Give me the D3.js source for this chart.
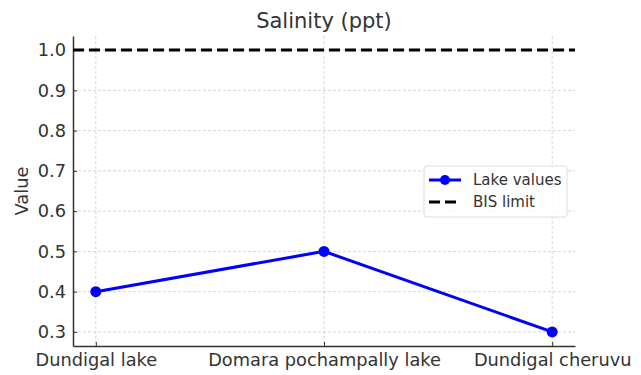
<!DOCTYPE html>
<html>
<head>
<meta charset="utf-8">
<script src="https://cdn.jsdelivr.net/npm/d3@7/dist/d3.min.js"></script>
<style>
  body { margin: 0; background: #fff; }
  svg { display: block; font-family: "DejaVu Sans", sans-serif; }
</style>
</head>
<body>
<div id="chart"></div>
<script>
// Chart data
const categories = ["Dundigal lake", "Domara pochampally lake", "Dundigal cheruvu"]
const lakeValues = [0.4, 0.5, 0.3]
const bisLimit = 1.0
const yTicks = [0.3, 0.4, 0.5, 0.6, 0.7, 0.8, 0.9, 1.0]

const width = 641, height = 375
const margin = { top: 36, right: 66, bottom: 29, left: 73 }
const innerW = width - margin.left - margin.right
const innerH = height - margin.top - margin.bottom
const textColor = "#333"
const font = "DejaVu Sans"
const tickSize = 17.8

const svg = d3.select("#chart").append("svg")
  .attr("width", width)
  .attr("height", height)

const g = svg.append("g").attr("transform", `translate(${margin.left},${margin.top})`)

// x uses index positions with matplotlib-like 5% padding
const x = d3.scaleLinear().domain([-0.1, categories.length - 1 + 0.1]).range([0, innerW])
const y = d3.scaleLinear().domain([0.265, 1.035]).range([innerH, 0])

// Grid
g.append("g").selectAll("line")
  .data(yTicks)
  .join("line")
  .attr("x1", 0).attr("x2", innerW)
  .attr("y1", d => y(d)).attr("y2", d => y(d))
  .attr("stroke", "#ccc").attr("stroke-width", 0.8)
  .attr("stroke-dasharray", "3,2")

g.append("g").selectAll("line")
  .data(categories)
  .join("line")
  .attr("x1", (d, i) => x(i)).attr("x2", (d, i) => x(i))
  .attr("y1", 0).attr("y2", innerH)
  .attr("stroke", "#ccc").attr("stroke-width", 0.8)
  .attr("stroke-dasharray", "3,2")

// Axes
const yAxis = g.append("g")
  .call(d3.axisLeft(y).tickValues(yTicks).tickFormat(d3.format(".1f")).tickSizeInner(-4).tickSizeOuter(0).tickPadding(7))
  .attr("font-family", font).attr("font-size", tickSize)
yAxis.select(".domain").attr("stroke", textColor).attr("stroke-width", 1.5)
yAxis.selectAll(".tick line").attr("stroke", textColor)
yAxis.selectAll("text").attr("fill", textColor)

const xAxis = g.append("g")
  .attr("transform", `translate(0,${innerH})`)
  .call(d3.axisBottom(x).tickValues(d3.range(categories.length)).tickFormat(i => categories[i]).tickSizeInner(-4).tickSizeOuter(0).tickPadding(7))
  .attr("font-family", font).attr("font-size", tickSize)
xAxis.select(".domain").attr("stroke", textColor).attr("stroke-width", 1.5)
xAxis.selectAll(".tick line").attr("stroke", textColor)
xAxis.selectAll("text").attr("fill", textColor)

// BIS limit
g.append("line")
  .attr("x1", 0).attr("x2", innerW)
  .attr("y1", y(bisLimit)).attr("y2", y(bisLimit))
  .attr("stroke", "#000").attr("stroke-width", 3)
  .attr("stroke-dasharray", "11,5")

// Lake values line
const line = d3.line().x((d, i) => x(i)).y(d => y(d))
g.append("path")
  .datum(lakeValues)
  .attr("d", line)
  .attr("fill", "none")
  .attr("stroke", "#0000ff")
  .attr("stroke-width", 3)

g.append("g").selectAll("circle")
  .data(lakeValues)
  .join("circle")
  .attr("cx", (d, i) => x(i)).attr("cy", d => y(d))
  .attr("r", 5.5)
  .attr("fill", "#0000ff")

// Title and y label
svg.append("text")
  .attr("x", margin.left + innerW / 2).attr("y", 28)
  .attr("text-anchor", "middle")
  .attr("font-family", font).attr("font-size", 21).attr("fill", textColor)
  .text("Salinity (ppt)")

svg.append("text")
  .attr("transform", `translate(28,${margin.top + innerH / 2}) rotate(-90)`)
  .attr("text-anchor", "middle")
  .attr("font-family", font).attr("font-size", tickSize).attr("fill", textColor)
  .text("Value")

// Legend
const legend = svg.append("g").attr("transform", "translate(424,166)")
legend.append("rect")
  .attr("width", 143).attr("height", 51).attr("rx", 3)
  .attr("fill", "#fff").attr("fill-opacity", 0.8)
  .attr("stroke", "#ddd")

legend.append("line").attr("x1", 5).attr("x2", 37).attr("y1", 14).attr("y2", 14)
  .attr("stroke", "#0000ff").attr("stroke-width", 3)
legend.append("circle").attr("cx", 21).attr("cy", 14).attr("r", 5).attr("fill", "#0000ff")
legend.append("text").attr("x", 49).attr("y", 19).attr("font-family", font).attr("font-size", 15).attr("fill", textColor).text("Lake values")

legend.append("line").attr("x1", 5).attr("x2", 37).attr("y1", 36).attr("y2", 36)
  .attr("stroke", "#000").attr("stroke-width", 3).attr("stroke-dasharray", "11,5")
legend.append("text").attr("x", 49).attr("y", 41).attr("font-family", font).attr("font-size", 15).attr("fill", textColor).text("BIS limit")
</script>
</body>
</html>
